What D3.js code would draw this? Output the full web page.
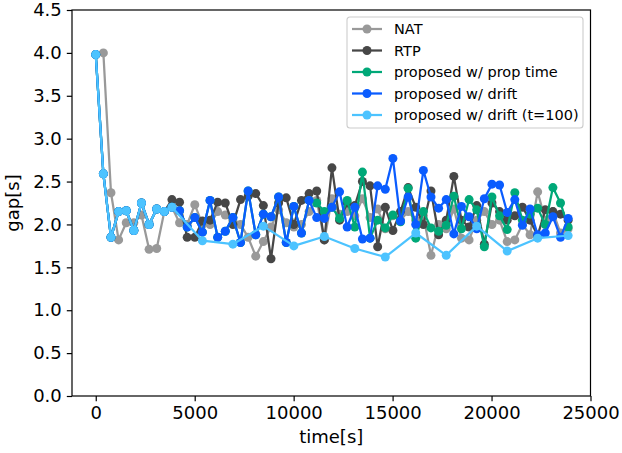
<!DOCTYPE html>
<html><head><meta charset="utf-8">
<script src="https://cdn.jsdelivr.net/npm/d3@7"></script>
<style>
body{margin:0;background:#fff}
text{font-family:"DejaVu Sans",sans-serif}
</style>
</head><body>
<svg id="chart" width="622" height="453"></svg>
<script>
// Sample times (s) shared by the densely sampled methods
const denseTimes = [
  0,385,770,1155,1540,1925,2310,2695,3080,3465,
  3850,4235,4620,5005,5390,5775,6160,6545,6930,7315,
  7700,8085,8470,8855,9240,9625,10010,10395,10780,11165,
  11550,11935,12320,12705,13090,13475,13860,14245,14630,15015,
  15400,15785,16170,16555,16940,17325,17710,18095,18480,18865,
  19250,19635,20020,20405,20790,21175,21560,21945,22330,22715,
  23100,23485,23870];
const natTimes = denseTimes.slice(1);
const sparseTimes = [0,385,770,1155,1540,1925,2310,2695,3080,3465,3850,
  5390,6930,8470,10010,11550,13090,14630,16170,17710,19250,20790,22330,23870];

// gap [s] per method
const natGap = [
  4.00,2.37,1.82,2.02,2.02,2.11,1.71,1.72,2.15,2.20,
  2.02,2.00,2.23,2.00,2.00,2.15,2.11,2.05,2.00,1.85,
  1.63,1.80,1.97,2.17,2.02,1.97,2.00,2.15,2.28,1.82,
  2.30,2.12,2.15,2.10,2.30,2.08,2.18,1.95,2.10,2.05,
  2.15,2.05,2.10,1.64,2.00,1.95,2.18,1.84,1.82,2.05,
  2.15,2.00,2.05,1.80,1.82,2.00,1.88,2.38,2.05,2.15,
  1.90,1.95];
const rtpGap = [
  3.98,2.59,1.85,2.15,2.16,1.93,2.25,2.00,2.18,2.15,
  2.29,2.26,1.85,1.85,2.04,2.05,2.26,2.25,2.00,2.29,
  2.33,2.36,2.22,1.60,2.25,2.31,2.00,2.28,2.36,2.39,
  1.82,2.66,2.05,2.25,2.22,2.50,2.45,1.74,2.20,1.93,
  2.15,2.43,2.20,2.00,2.39,1.88,2.05,2.56,2.05,1.97,
  2.22,1.77,2.25,2.15,2.05,2.10,2.20,2.05,1.87,2.17,
  2.15,2.12,2.05];
const propGap = [
  3.98,2.59,1.85,2.15,2.16,1.93,2.25,2.00,2.18,2.15,
  2.20,2.16,1.97,2.08,1.91,2.28,1.85,1.92,2.08,1.79,
  2.39,1.88,2.12,2.09,2.32,1.79,2.21,1.90,2.28,2.25,
  2.15,2.20,2.07,2.28,1.97,2.61,1.84,2.05,1.96,2.11,
  2.03,2.42,1.84,2.15,1.96,1.92,1.99,2.33,1.95,2.29,
  2.17,1.74,2.32,2.10,1.94,2.37,2.05,2.12,2.19,2.00,
  2.43,2.25,1.97];
const driftGap = [
  3.98,2.59,1.85,2.15,2.16,1.93,2.25,2.00,2.18,2.15,
  2.20,2.16,1.97,2.08,1.91,2.28,1.85,1.92,2.08,1.79,
  2.39,1.88,2.12,2.09,2.32,1.79,2.21,1.90,2.28,2.08,
  2.07,2.20,2.38,1.97,2.20,1.83,1.84,2.45,2.41,2.77,
  2.04,2.32,2.00,2.63,2.32,2.19,2.29,1.89,2.21,2.09,
  1.95,2.30,2.47,2.46,2.14,2.29,1.99,2.18,1.88,1.90,
  2.09,1.85,2.07];
const drift100Gap = [
  3.98,2.59,1.85,2.15,2.16,1.93,2.25,2.00,2.18,2.15,2.20,
  1.81,1.77,1.98,1.75,1.86,1.72,1.62,1.90,1.64,1.98,1.69,1.84,1.87];

const seriesNames = ["NAT","RTP","proposed w/ prop time","proposed w/ drift","proposed w/ drift (t=100)"];
const seriesColors = ["#999999","#474747","#00a878","#0a5cff","#4cc3ff"];
const xTicks = [0,5000,10000,15000,20000,25000];
const yTicks = [0,0.5,1,1.5,2,2.5,3,3.5,4,4.5];

const series = [
  {times: natTimes, values: natGap},
  {times: denseTimes, values: rtpGap},
  {times: denseTimes, values: propGap},
  {times: denseTimes, values: driftGap},
  {times: sparseTimes, values: drift100Gap}
].map((s, k) => ({
  name: seriesNames[k], color: seriesColors[k],
  points: d3.zip(s.times, s.values)
}));

const svg = d3.select("#chart");
const plotL = 72, plotR = 590.5, plotT = 10, plotB = 396;
const x = d3.scaleLinear().domain([-1200, 25000]).range([plotL, plotR]);
const y = d3.scaleLinear().domain([0, 4.5]).range([plotB, plotT]);
const tickFS = "18px", legendFS = "14.5px";
const LW = 2.25, R = 4.5;

// series: line then markers, in legend order
const line = d3.line().x(d => x(d[0])).y(d => y(d[1]));
series.forEach(s => {
  const g = svg.append("g");
  g.append("path").attr("d", line(s.points)).attr("fill", "none")
    .attr("stroke", s.color).attr("stroke-width", LW)
    .attr("stroke-linejoin", "round").attr("stroke-linecap", "square");
  g.selectAll("circle").data(s.points).join("circle")
    .attr("cx", d => x(d[0])).attr("cy", d => y(d[1])).attr("r", R)
    .attr("fill", s.color);
});

// axes
const xAxis = d3.axisBottom(x).tickValues(xTicks).tickFormat(d3.format("d"))
  .tickSizeInner(5.2).tickSizeOuter(0).tickPadding(5);
const yAxis = d3.axisLeft(y).tickValues(yTicks).tickFormat(d3.format(".1f"))
  .tickSizeInner(5.2).tickSizeOuter(0).tickPadding(5);
const gx = svg.append("g").attr("transform", `translate(0,${plotB})`).call(xAxis);
const gy = svg.append("g").attr("transform", `translate(${plotL},0)`).call(yAxis);
[gx, gy].forEach(g => {
  g.select(".domain").remove();
  g.selectAll(".tick line").attr("stroke", "#000").attr("stroke-width", 1.2);
  g.selectAll(".tick text").attr("fill", "#000").style("font-size", tickFS)
    .style("font-family", "DejaVu Sans");
});
// frame
svg.append("rect").attr("x", plotL).attr("y", plotT)
  .attr("width", plotR - plotL).attr("height", plotB - plotT)
  .attr("fill", "none").attr("stroke", "#000").attr("stroke-width", 1.2);

// axis titles
svg.append("text").attr("x", (plotL + plotR) / 2).attr("y", 443)
  .attr("text-anchor", "middle").style("font-size", tickFS).text("time[s]");
svg.append("text").attr("transform", `translate(19,${(plotT + plotB) / 2}) rotate(-90)`)
  .attr("text-anchor", "middle").style("font-size", tickFS).text("gap[s]");

// legend
const lg = svg.append("g").attr("transform", "translate(347,17)");
lg.append("rect").attr("width", 236).attr("height", 111).attr("rx", 3)
  .attr("fill", "#fff").attr("fill-opacity", 0.8)
  .attr("stroke", "#cccccc").attr("stroke-width", 1.1);
series.forEach((s, k) => {
  const yy = 12 + k * 21.5;
  lg.append("line").attr("x1", 5).attr("x2", 35).attr("y1", yy).attr("y2", yy)
    .attr("stroke", s.color).attr("stroke-width", LW);
  lg.append("circle").attr("cx", 20).attr("cy", yy).attr("r", R).attr("fill", s.color);
  lg.append("text").attr("x", 47).attr("y", yy).attr("dy", "0.36em")
    .style("font-size", legendFS).text(s.name);
});
</script>
</body></html>
